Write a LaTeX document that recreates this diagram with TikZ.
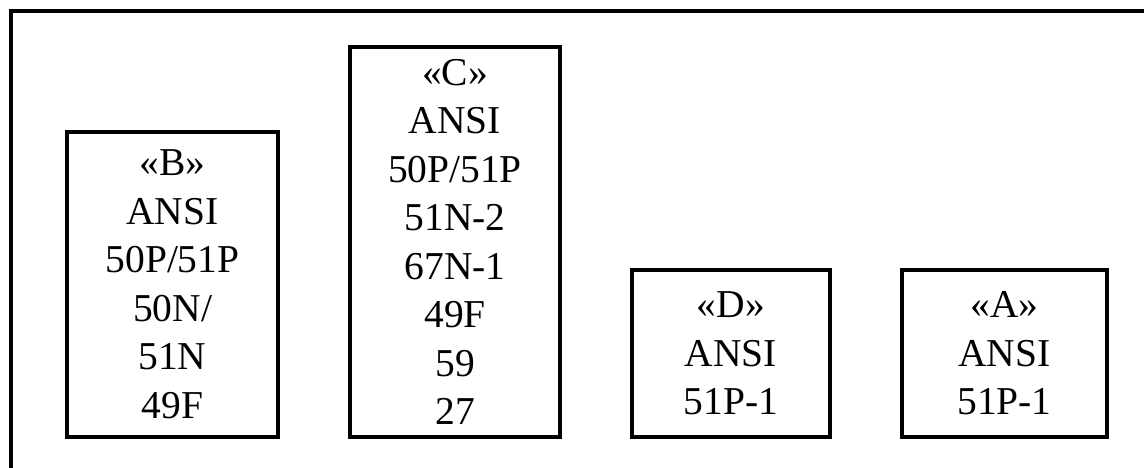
\documentclass[tikz,border=0pt]{standalone}
\usepackage{fontspec}
\setmainfont{Liberation Serif}
\begin{document}
\begin{tikzpicture}[x=1pt, y=-1pt, line width=4pt,
  every node/.style={font=\fontsize{39.5}{48.5}\selectfont, align=center, inner sep=0pt},
  relay/.style={draw, line width=4pt}]
\useasboundingbox (0,0) rectangle (1144,468);
\clip (0,0) rectangle (1144,468);
\draw (11,11) rectangle (1170,490);

\node[relay, minimum width=211pt, minimum height=305pt] (relB) at (172.5,284.5) {«B»\\ANSI\\50P/51P\\50N/\\51N\\49F};
\node[relay, minimum width=210pt, minimum height=390pt] (relC) at (455,242) {«C»\\ANSI\\50P/51P\\51N-2\\67N-1\\49F\\59\\27};
\node[relay, minimum width=198pt, minimum height=167pt] (relD) at (731,353.5) {«D»\\ANSI\\51P-1};
\node[relay, minimum width=205pt, minimum height=167pt] (relA) at (1004.5,353.5) {«A»\\ANSI\\51P-1};
\end{tikzpicture}
\end{document}
